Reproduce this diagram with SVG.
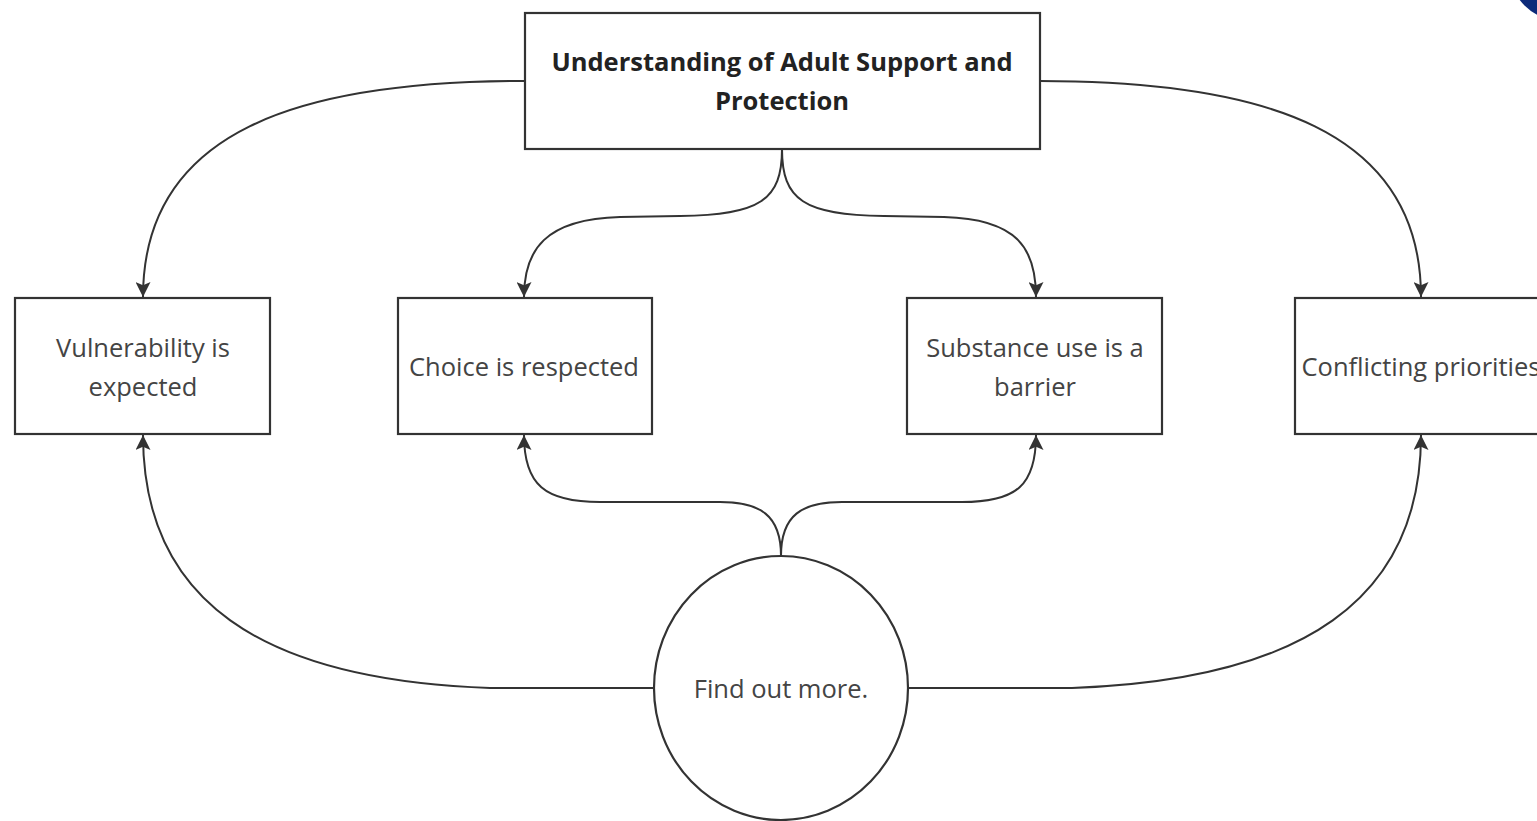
<svg xmlns="http://www.w3.org/2000/svg" width="1537" height="821" viewBox="0 0 1537 821">
<style>
.box{fill:#fff;stroke:#333;stroke-width:2.2}
.edge{fill:none;stroke:#333;stroke-width:2}
.t{font-family:"Open Sans","Liberation Sans",sans-serif;font-size:25.5px;fill:#444;text-anchor:middle}
.tb{font-family:"Open Sans","Liberation Sans",sans-serif;font-size:25.5px;font-weight:bold;fill:#222;text-anchor:middle}
</style>
<defs>
<marker id="arr" viewBox="0 0 14 14" refX="14" refY="7" markerWidth="15" markerHeight="15" markerUnits="userSpaceOnUse" orient="auto">
<path d="M0,0 L14,7 L0,14 L3,7 Z" fill="#333"/>
</marker>
</defs>
<rect width="1537" height="821" fill="#fff"/>
<circle cx="1562" cy="-32" r="53" fill="#0d2a7a"/>
<g id="connectors">
<path class="edge" d="M525,81 C300,81 143,130 143,297" marker-end="url(#arr)"/>
<path class="edge" d="M1040,81 C1265,81 1421,130 1421,297" marker-end="url(#arr)"/>
<path class="edge" d="M782,149 C782,200 760,215 680,216 L620,217 C545,219 524,250 524,297" marker-end="url(#arr)"/>
<path class="edge" d="M782,149 C782,200 804,215 884,216 L944,217 C1019,219 1036,250 1036,297" marker-end="url(#arr)"/>
<path class="edge" d="M781,556 C781,515 760,502 720,502 L600,502 C545,502 524,485 524,435" marker-end="url(#arr)"/>
<path class="edge" d="M781,556 C781,515 802,502 842,502 L962,502 C1017,502 1036,485 1036,435" marker-end="url(#arr)"/>
<path class="edge" d="M654,688 L490,688 C260,680 143,600 143,435" marker-end="url(#arr)"/>
<path class="edge" d="M908,688 L1072,688 C1302,680 1421,600 1421,435" marker-end="url(#arr)"/>
</g>
<g id="node-top">
<rect class="box" x="525" y="13" width="515" height="136"/>
<text class="tb" x="782" y="71">Understanding of Adult Support and</text>
<text class="tb" x="782" y="110">Protection</text>
</g>
<g id="node-vulnerability">
<rect class="box" x="15" y="298" width="255" height="136"/>
<text class="t" x="143" y="357">Vulnerability is</text>
<text class="t" x="143" y="396">expected</text>
</g>
<g id="node-choice">
<rect class="box" x="398" y="298" width="254" height="136"/>
<text class="t" x="524" y="376">Choice is respected</text>
</g>
<g id="node-substance">
<rect class="box" x="907" y="298" width="255" height="136"/>
<text class="t" x="1035" y="357">Substance use is a</text>
<text class="t" x="1035" y="396">barrier</text>
</g>
<g id="node-conflicting">
<rect class="box" x="1295" y="298" width="260" height="136"/>
<text class="t" x="1421" y="376">Conflicting priorities</text>
</g>
<g id="node-findout">
<ellipse class="box" cx="781" cy="688" rx="127" ry="132"/>
<text class="t" x="781" y="698">Find out more.</text>
</g>
</svg>
